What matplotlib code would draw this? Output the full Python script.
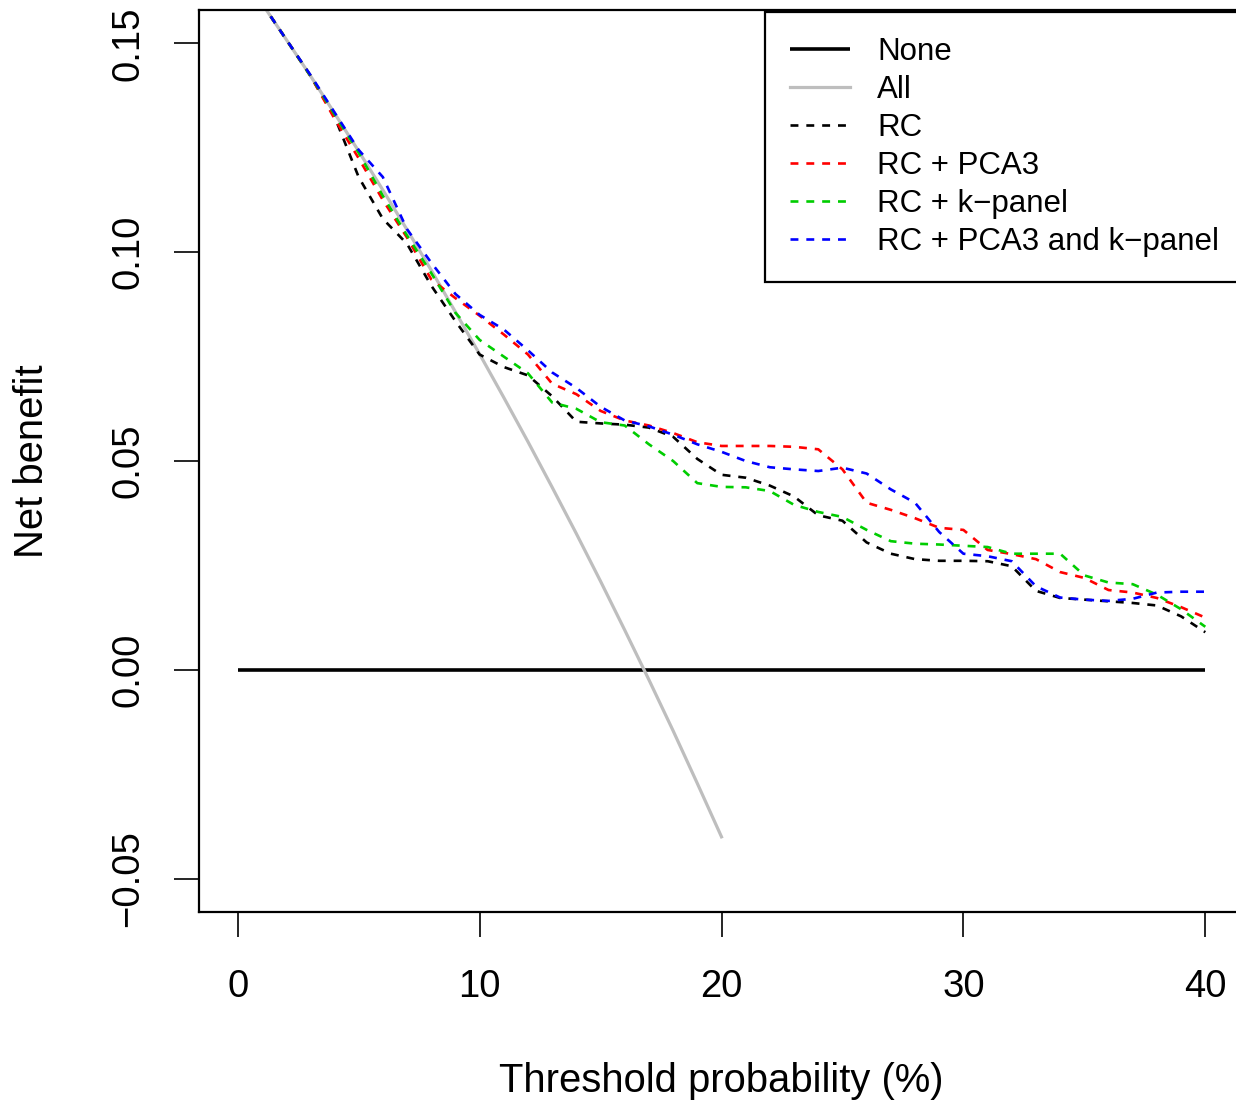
import matplotlib
matplotlib.use("Agg")
import matplotlib.pyplot as plt

plt.rcParams['font.family'] = ['Liberation Sans', 'DejaVu Sans']

# ---- data ----
threshold = list(range(1, 41))
none_x = [0, 40]
none_nb = [0.0, 0.0]

all_x = list(range(0, 21))
all_nb = [0.1680, 0.1596, 0.1510, 0.1423, 0.1333, 0.1242, 0.1149, 0.1054, 0.0957, 0.0857,
          0.0756, 0.0652, 0.0546, 0.0437, 0.0326, 0.0212, 0.0095, -0.0024, -0.0146, -0.0272,
          -0.0400]

rc = [0.1596, 0.1510, 0.1423, 0.1325, 0.1180, 0.1080, 0.1020, 0.0920, 0.0835, 0.0755,
      0.0725, 0.0705, 0.0655, 0.0594, 0.0590, 0.0587, 0.0580, 0.0558, 0.0505, 0.0467,
      0.0460, 0.0441, 0.0415, 0.0370, 0.0357, 0.0305, 0.0278, 0.0265, 0.0261, 0.0261,
      0.0260, 0.0248, 0.0189, 0.0172, 0.0168, 0.0164, 0.0160, 0.0154, 0.0128, 0.0090]

rc_pca3 = [0.1596, 0.1510, 0.1423, 0.1320, 0.1225, 0.1125, 0.1035, 0.0935, 0.0890, 0.0848,
           0.0803, 0.0755, 0.0685, 0.0660, 0.0620, 0.0597, 0.0585, 0.0567, 0.0545, 0.0536,
           0.0536, 0.0536, 0.0534, 0.0528, 0.0480, 0.0400, 0.0383, 0.0363, 0.0340, 0.0335,
           0.0287, 0.0277, 0.0265, 0.0234, 0.0220, 0.0191, 0.0185, 0.0172, 0.0150, 0.0125]

rc_kpanel = [0.1596, 0.1510, 0.1423, 0.1330, 0.1238, 0.1135, 0.1040, 0.0950, 0.0855, 0.0790,
             0.0750, 0.0710, 0.0640, 0.0625, 0.0593, 0.0585, 0.0540, 0.0500, 0.0447, 0.0438,
             0.0437, 0.0428, 0.0395, 0.0378, 0.0366, 0.0335, 0.0308, 0.0302, 0.0300, 0.0297,
             0.0294, 0.0278, 0.0278, 0.0278, 0.0226, 0.0209, 0.0205, 0.0180, 0.0145, 0.0103]

rc_both = [0.1596, 0.1510, 0.1425, 0.1335, 0.1245, 0.1180, 0.1055, 0.0975, 0.0900, 0.0850,
           0.0815, 0.0765, 0.0712, 0.0675, 0.0630, 0.0597, 0.0583, 0.0563, 0.0540, 0.0522,
           0.0500, 0.0485, 0.0480, 0.0476, 0.0484, 0.0470, 0.0432, 0.0400, 0.0330, 0.0278,
           0.0272, 0.0260, 0.0200, 0.0173, 0.0168, 0.0165, 0.0170, 0.0185, 0.0187, 0.0187]

labels = ["None", "All", "RC", "RC + PCA3", "RC + k\u2212panel", "RC + PCA3 and k\u2212panel"]
colors = ["black", "#BEBEBE", "black", "#FF0000", "#00CD00", "#0000FF"]

x_ticks = [0, 10, 20, 30, 40]
y_ticks = [-0.05, 0.00, 0.05, 0.10, 0.15]
y_ticklabels = ["\u22120.05", "0.00", "0.05", "0.10", "0.15"]

# ---- figure ----
W, H = 1236, 1106
fig = plt.figure(figsize=(W / 100, H / 100), dpi=100)
ax = fig.add_axes([199 / W, (H - 912) / H, (1244 - 199) / W, (912 - 10) / H])

dash = (0, (3.0, 3.0))
ax.plot(none_x, none_nb, color=colors[0], lw=2.6, label=labels[0], solid_capstyle='butt')
ax.plot(all_x, all_nb, color=colors[1], lw=2.3, label=labels[1])
ax.plot(threshold, rc, color=colors[2], lw=1.9, ls=dash, label=labels[2])
ax.plot(threshold, rc_pca3, color=colors[3], lw=1.9, ls=dash, label=labels[3])
ax.plot(threshold, rc_kpanel, color=colors[4], lw=1.9, ls=dash, label=labels[4])
ax.plot(threshold, rc_both, color=colors[5], lw=1.9, ls=dash, label=labels[5])

ax.set_xlim(-1.6, 41.6)
ax.set_ylim(-0.058, 0.158)

ax.set_xticks(x_ticks)
ax.set_xticklabels([str(v) for v in x_ticks])
ax.set_yticks(y_ticks)
ax.set_yticklabels(y_ticklabels, rotation=90, va='center')

ax.tick_params(axis='both', direction='out', length=18, width=1.2, labelsize=27.5, color='black')
ax.tick_params(axis='x', pad=23)
ax.tick_params(axis='y', pad=20)

for sp in ax.spines.values():
    sp.set_linewidth(1.6)
    sp.set_color('black')

ax.set_xlabel("Threshold probability (%)", fontsize=28.8)
ax.set_ylabel("Net benefit", fontsize=28.8)
ax.xaxis.set_label_coords(0.5, (912 - 1081) / 902)
ax.xaxis.label.set_va('center')
ax.yaxis.set_label_coords((32 - 199) / 1045, 0.5)
ax.yaxis.label.set_va('center')

leg = ax.legend(loc='upper right', bbox_to_anchor=(1.0, 0.998), fontsize=22.5,
                frameon=True, fancybox=False, edgecolor='black', framealpha=1,
                borderaxespad=0, borderpad=0.8, handlelength=1.92, handletextpad=0.86,
                labelspacing=0.26)
leg.get_frame().set_linewidth(1.6)

fig.savefig("out.png", dpi=100)
